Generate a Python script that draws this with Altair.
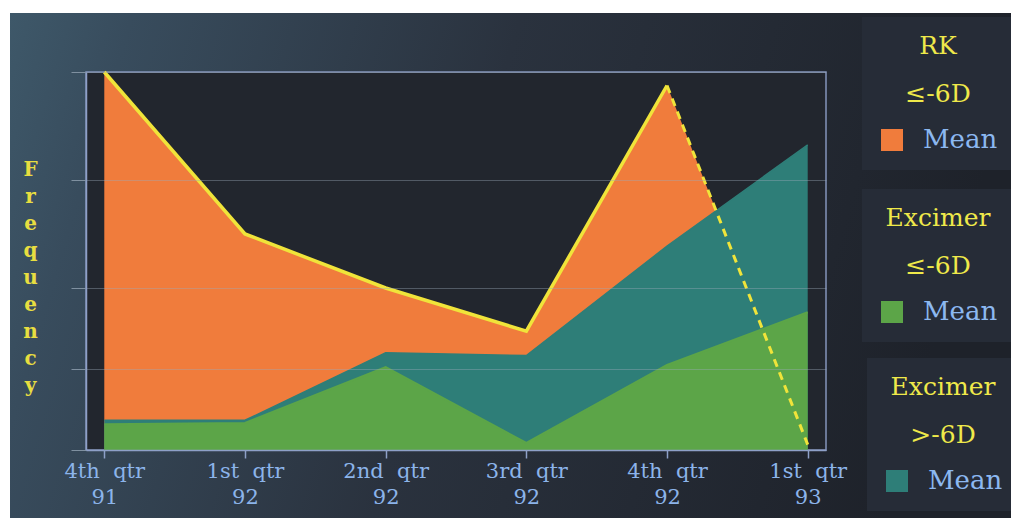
import altair as alt
import pandas as pd

# ---- data ----
quarters = ["4th qtr 91", "1st qtr 92", "2nd qtr 92", "3rd qtr 92", "4th qtr 92", "1st qtr 93"]
rk_le6 = [14.0, 8.0, 6.0, 4.4, 13.5, 0.2]          # RK <= -6D (orange)
exc_gt6 = [1.1, 1.1, 3.6, 3.5, 7.55, 11.3]         # Excimer > -6D (teal)
exc_le6 = [0.95, 1.0, 3.07, 0.26, 3.15, 5.1]       # Excimer <= -6D (green)
grid_values = [0, 3, 6, 10, 14]
legend_titles = [["RK", "≤-6D"], ["Excimer", "≤-6D"], ["Excimer", ">-6D"]]
entry_label = "Mean"
y_title = "Frequency"

ORANGE = "#f07c3c"
TEAL = "#2e7e78"
GREEN = "#5ca548"
YELLOW = "#f0e43a"
FONT = "DejaVu Serif"
NBSP2 = "\u00a0\u00a0"

df = pd.DataFrame({
    "quarter": quarters,
    "idx": list(range(len(quarters))),
    "rk": rk_le6,
    "exc_gt": exc_gt6,
    "exc_le": exc_le6,
    "entry": [entry_label] * len(quarters),
})

x_axis = alt.Axis(
    title=None, labelAngle=0, labelFont=FONT, labelFontSize=21, labelColor="#8cb4ea",
    labelLineHeight=26, labelPadding=2,
    labelExpr="[substring(datum.label, 0, 3) + '" + NBSP2 + "' + substring(datum.label, 4, 7), substring(datum.label, 8)]",
    ticks=True, tickSize=8, tickColor="#8ea0c8", tickWidth=1.5,
    domain=True, domainColor="#8ea0c8", domainWidth=1.5, grid=False, zindex=1,
)
y_axis = alt.Axis(
    values=grid_values, labels=False, grid=True, gridColor="#9aaab8", gridOpacity=0.4,
    gridWidth=1, ticks=True, tickSize=15, tickColor="#7f90a0", tickWidth=1,
    domain=True, domainColor="#8ea0c8", domainWidth=1.5,
    title=list(y_title), titleAngle=0, titleX=-56, titleY=97, titleAlign="center",
    titleBaseline="middle", titleFont=FONT, titleFontSize=20, titleFontWeight="bold",
    titleColor="#e8de40", titleLineHeight=27, zindex=1,
)

x_enc = alt.X("quarter:N", sort=quarters, scale=alt.Scale(type="point", padding=0.13), axis=x_axis)


def y_enc(field):
    return alt.Y(f"{field}:Q", scale=alt.Scale(domain=[0, 14], nice=False), axis=y_axis)


def legend(title, lx, ly):
    return alt.Legend(
        title=title, orient="none", legendX=lx, legendY=ly, padding=17,
        fillColor="#262c37", symbolType="square", symbolSize=484, symbolStrokeWidth=0,
        labelFont=FONT, labelFontSize=26, labelColor="#8cb8f0", labelOffset=18,
        titleFont=FONT, titleFontSize=25, titleFontWeight="normal", titleColor="#efe94a",
        titleLineHeight=48, titleAnchor="middle", titleAlign="center", titlePadding=20,
        zindex=1,
    )


def color_enc(col, title, lx, ly):
    return alt.Color("entry:N", scale=alt.Scale(domain=[entry_label], range=[col]),
                     legend=legend(title, lx, ly))


grad = alt.Gradient(
    gradient="linear",
    stops=[
        alt.GradientStop(offset=0, color="#3e5869"),
        alt.GradientStop(offset=0.12, color="#384c5d"),
        alt.GradientStop(offset=0.5, color="#2a323e"),
        alt.GradientStop(offset=1, color="#1e222a"),
    ],
    x1=0, y1=0, x2=1, y2=0.15,
)

bg = alt.Chart(alt.Data(values=[{"k": 1}])).mark_rect(fill=grad, strokeWidth=0).encode(
    x=alt.value(-76), x2=alt.value(925), y=alt.value(-59), y2=alt.value(446)
)
plotbg = alt.Chart(alt.Data(values=[{"k": 1}])).mark_rect(
    fill="#22262e", stroke="#8494bb", strokeWidth=1.5
).encode(x=alt.value(0), x2=alt.value("width"), y=alt.value(0), y2=alt.value("height"))

base = alt.Chart(df)

orange_area = base.mark_area(opacity=1).encode(
    x=x_enc, y=y_enc("rk"), color=color_enc(ORANGE, legend_titles[0], 776, -55)
)
yellow_line = base.transform_filter("datum.idx <= 4").mark_line(strokeWidth=3.5).encode(
    x=x_enc, y=y_enc("rk"), color=alt.value(YELLOW)
)
teal_area = base.mark_area(opacity=1, line={"color": "#3f9289", "strokeWidth": 1.5}).encode(
    x=x_enc, y=y_enc("exc_gt"), color=color_enc(TEAL, legend_titles[2], 781, 286)
)
green_area = base.mark_area(opacity=1, line={"color": "#80c472", "strokeWidth": 2}).encode(
    x=x_enc, y=y_enc("exc_le"), color=color_enc(GREEN, legend_titles[1], 776, 117)
)
dashed = base.transform_filter("datum.idx >= 4").mark_line(
    strokeWidth=3, strokeDash=[8, 6]
).encode(x=x_enc, y=y_enc("rk"), color=alt.value(YELLOW))

chart = alt.layer(
    bg, plotbg, orange_area, yellow_line, teal_area, green_area, dashed
).resolve_scale(color="independent").resolve_legend(color="independent").properties(
    width=740, height=378, background="white",
    padding={"left": 86, "top": 72, "right": 185, "bottom": 68},
    autosize=alt.AutoSizeParams(type="none"),
).configure_view(strokeWidth=0).configure(font=FONT)

chart.save("out.html", embed_options={"renderer": "svg", "actions": False})
